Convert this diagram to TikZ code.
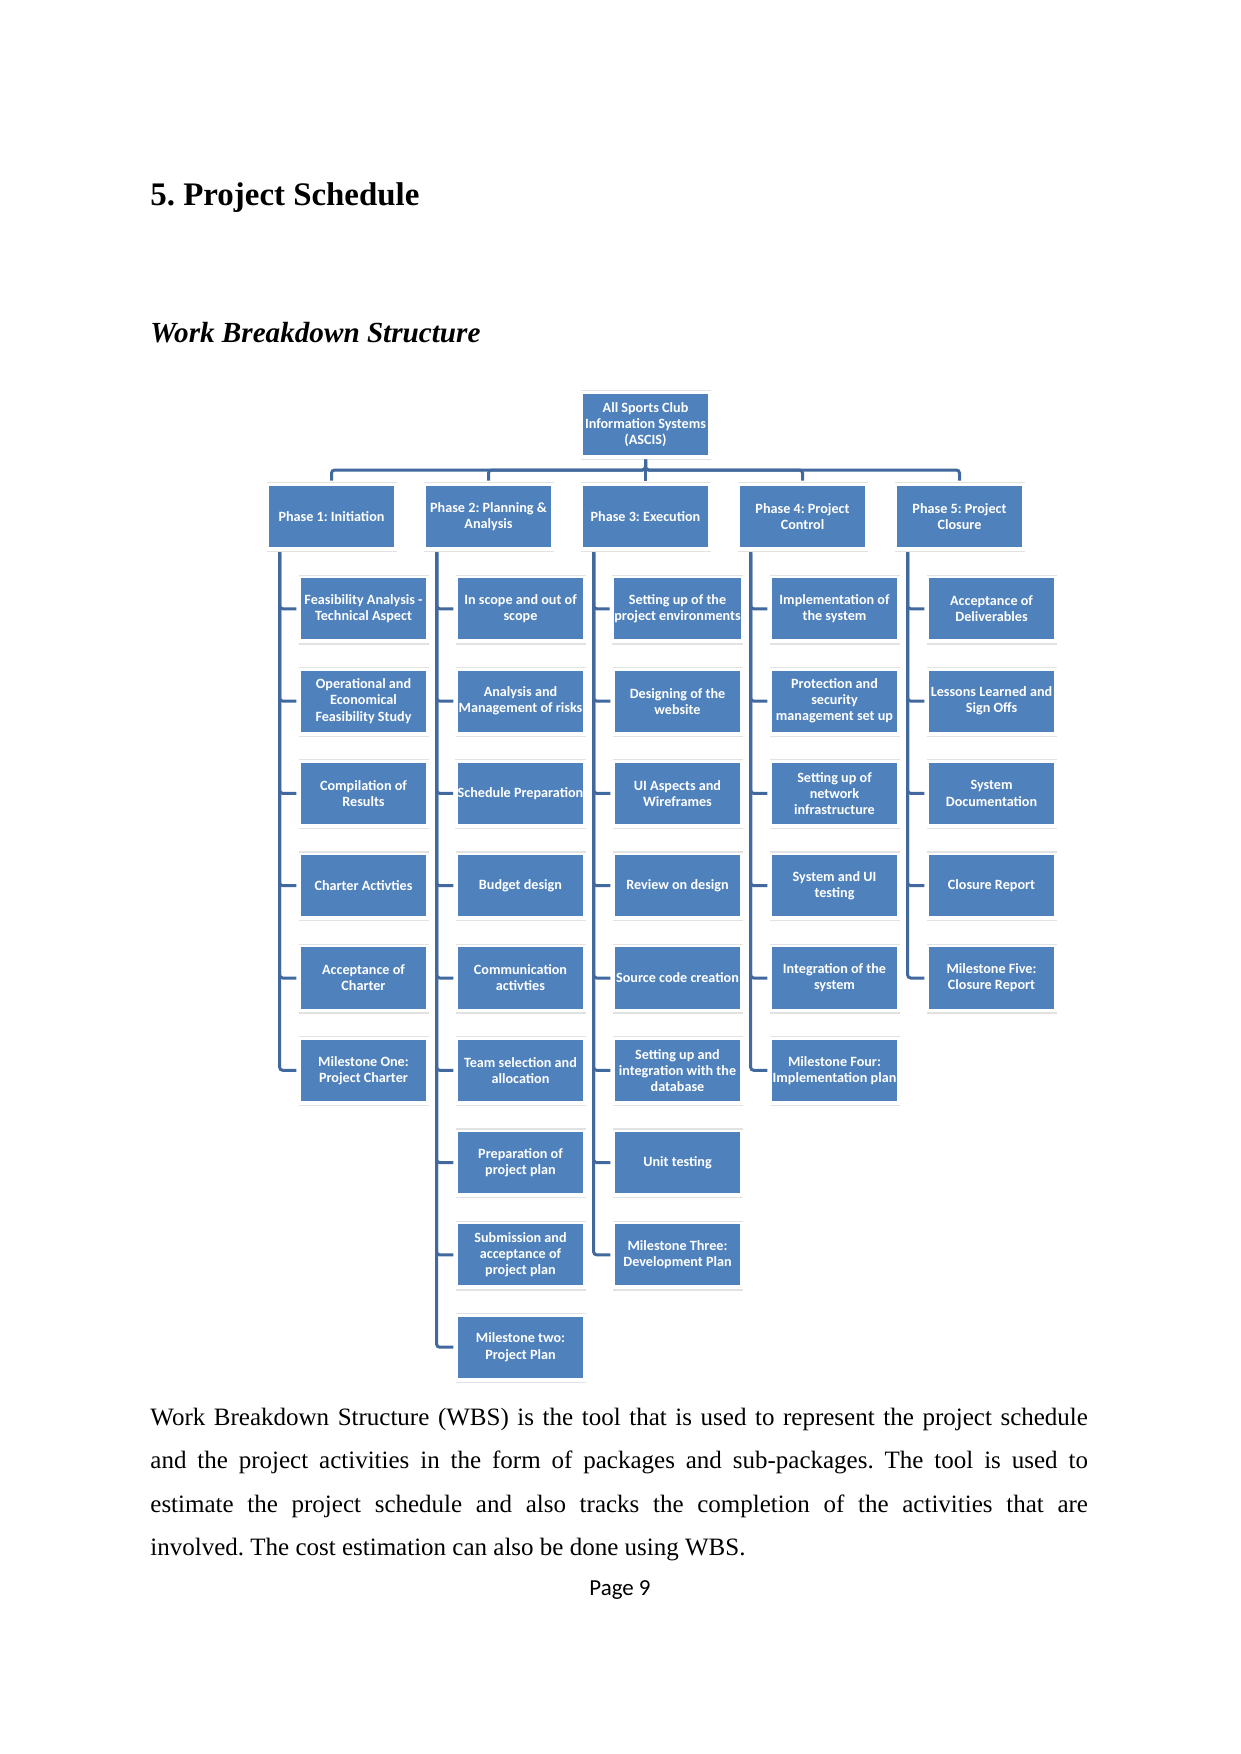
\documentclass[tikz,border=0pt]{standalone}
\usepackage{fontspec}
\setmainfont{Liberation Serif}
\newfontfamily\carlito{Carlito}
\definecolor{boxblue}{HTML}{4F81BD}
\definecolor{lineblue}{HTML}{41699E}
\definecolor{shadowgray}{HTML}{E2E2E2}
\newcommand\wbsshade[1]{%
  \draw[shadeline] ([shift={(-1pt,1.3pt)}]#1.north west) -- ([shift={(1pt,1.3pt)}]#1.north east);
  \draw[shadeline] ([shift={(-1pt,-2pt)}]#1.south west) -- ([shift={(1pt,-2pt)}]#1.south east);}
\frenchspacing
\begin{document}
\begin{tikzpicture}[x=0.48pt,y=-0.48pt,
  wbsbox/.style={rectangle, fill=boxblue, minimum width=60pt, minimum height=29.3pt,
    inner sep=0pt, align=center, text=white,
    font=\carlito\bfseries\fontsize{6.8}{7.7}\selectfont},
  conn/.style={draw=lineblue, line width=1.44pt, rounded corners=1.5pt},
  shadeline/.style={draw=shadowgray, line width=0.6pt}]
\useasboundingbox (0,0) rectangle (1241,1754);

% headings
\node[anchor=base west, inner sep=0pt, font=\fontsize{15.8}{19}\selectfont\bfseries] (h1) at (150,205) {5. Project Schedule};
\node[anchor=base west, inner sep=0pt, font=\fontsize{14}{17}\selectfont\bfseries\itshape] (h2) at (150,342) {Work Breakdown Structure};

% top and phases
\node[wbsbox] (top) at (645.5,424.5) {All Sports Club\\Information Systems\\(ASCIS)};
\node[wbsbox] (p1) at (331.5,516.5) {Phase 1: Initiation};
\node[wbsbox] (p2) at (488.5,516.5) {Phase 2: Planning \&\\Analysis};
\node[wbsbox] (p3) at (645.5,516.5) {Phase 3: Execution};
\node[wbsbox] (p4) at (802.5,516.5) {Phase 4: Project\\Control};
\node[wbsbox] (p5) at (959.5,516.5) {Phase 5: Project\\Closure};

% column 1
\foreach \t [count=\i] in {{Feasibility Analysis -\\Technical Aspect},
  {Operational and\\Economical\\Feasibility Study},
  {Compilation of\\Results},
  {Charter Activties},
  {Acceptance of\\Charter},
  {Milestone One:\\Project Charter}}
  \node[wbsbox] (c1-\i) at (363.5,{608.8+92.3*(\i-1)}) {\t};
% column 2
\foreach \t [count=\i] in {{In scope and out of\\scope},
  {Analysis and\\Management of risks},
  {Schedule Preparation},
  {Budget design},
  {Communication\\activties},
  {Team selection and\\allocation},
  {Preparation of\\project plan},
  {Submission and\\acceptance of\\project plan},
  {Milestone two:\\Project Plan}}
  \node[wbsbox] (c2-\i) at (520.5,{608.8+92.3*(\i-1)}) {\t};
% column 3
\foreach \t [count=\i] in {{Setting up of the\\project environments},
  {Designing of the\\website},
  {UI Aspects and\\Wireframes},
  {Review on design},
  {Source code creation},
  {Setting up and\\integration with the\\database},
  {Unit testing},
  {Milestone Three:\\Development Plan}}
  \node[wbsbox] (c3-\i) at (677.5,{608.8+92.3*(\i-1)}) {\t};
% column 4
\foreach \t [count=\i] in {{Implementation of\\the system},
  {Protection and\\security\\management set up},
  {Setting up of\\network\\infrastructure},
  {System and UI\\testing},
  {Integration of the\\system},
  {Milestone Four:\\Implementation plan}}
  \node[wbsbox] (c4-\i) at (834.5,{608.8+92.3*(\i-1)}) {\t};
% column 5
\foreach \t [count=\i] in {{Acceptance of\\Deliverables},
  {Lessons Learned and\\Sign Offs},
  {System\\Documentation},
  {Closure Report},
  {Milestone Five:\\Closure Report}}
  \node[wbsbox] (c5-\i) at (991.5,{608.8+92.3*(\i-1)}) {\t};

% faint reflection lines
\foreach \n in {top,p1,p2,p3,p4,p5} {\wbsshade{\n}}
\foreach \c/\m in {1/6,2/9,3/8,4/6,5/5} {
  \foreach \i in {1,...,\m} {\wbsshade{c\c-\i}}}

% connectors top -> phases
\coordinate (bar) at (645.5,470);
\foreach \p in {p1,p2,p3,p4,p5}
  \draw[conn] ([yshift=-2pt]top.south) -- (top.south |- bar) -| ([yshift=2.4pt]\p.north);

% connectors phases -> children
\foreach \c/\m in {1/6,2/9,3/8,4/6,5/5} {
  \foreach \i in {1,...,\m}
    \draw[conn] ([xshift=5.28pt,yshift=-2.4pt]p\c.south west) |- ([xshift=-2pt]c\c-\i.west);}

% paragraph
\node[anchor=north west, inner sep=0pt, text width=450pt, align=justify,
  font=\fontsize{12}{20.8}\selectfont] (para) at (150,1394.7)
  {\strut Work Breakdown Structure (WBS) is the tool that is used to represent the project schedule\linebreak
   and the project activities in the form of packages and sub-packages. The tool is used to\linebreak
   estimate the project schedule and also tracks the completion of the activities that are\linebreak
   involved. The cost estimation can also be done using WBS.};

\node[anchor=base, inner sep=0pt, font=\carlito\fontsize{11}{13}\selectfont] (pg) at (620,1595) {Page 9};
\end{tikzpicture}
\end{document}
